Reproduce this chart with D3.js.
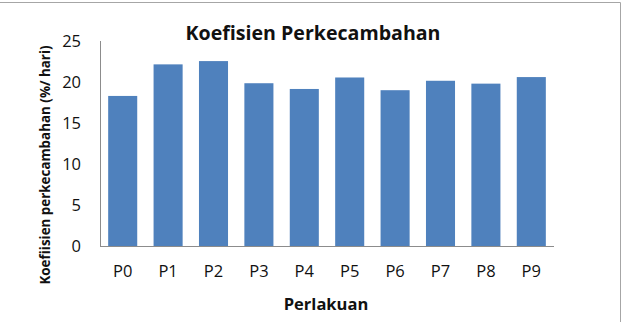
<!DOCTYPE html>
<html>
<head>
<meta charset="utf-8">
<script src="https://d3js.org/d3.v7.min.js"></script>
<style>
  body { margin: 0; background: #fff; }
  svg { display: block; font-family: "Open Sans", sans-serif; }
</style>
</head>
<body>
<svg></svg>
<script>
    // data
    var categories = ["P0", "P1", "P2", "P3", "P4", "P5", "P6", "P7", "P8", "P9"];
    var values = [18.3, 22.15, 22.55, 19.85, 19.15, 20.55, 19.0, 20.15, 19.8, 20.6];
    var yTicks = [0, 5, 10, 15, 20, 25];

    var width = 625, height = 322;
    var plotLeft = 100, plotRight = 554, plotTop = 41, plotBottom = 246;

    var svg = d3.select("svg")
        .attr("width", width)
        .attr("height", height);

    // frame: only the top and right edges show in the reference
    svg.append("line")
        .attr("x1", 0).attr("x2", 620.5).attr("y1", 2.5).attr("y2", 2.5)
        .style("stroke", "#a6a6a6");
    svg.append("line")
        .attr("x1", 620.5).attr("x2", 620.5).attr("y1", 2.5).attr("y2", height)
        .style("stroke", "#a6a6a6");

    var x = d3.scaleBand()
        .domain(categories)
        .range([plotLeft, plotRight])
        .paddingInner(0.36)
        .paddingOuter(0.18);

    var y = d3.scaleLinear()
        .domain([0, 25])
        .range([plotBottom, plotTop]);

    svg.selectAll("rect.bar")
        .data(values)
        .enter().append("rect")
        .attr("class", "bar")
        .attr("x", function (d, i) { return x(categories[i]); })
        .attr("width", x.bandwidth())
        .attr("y", function (d) { return y(d); })
        .attr("height", function (d) { return y(0) - y(d); })
        .style("fill", "#4f81bd");

    // y axis
    var yAxis = svg.append("g")
        .attr("transform", "translate(" + plotLeft + ",0)")
        .call(d3.axisLeft(y).tickValues(yTicks).tickSize(0).tickPadding(19));
    yAxis.select(".domain").style("stroke", "#8c8c8c").attr("d", "M0.5," + plotTop + "V" + plotBottom);
    yAxis.selectAll("text")
        .style("font-family", "Open Sans")
        .style("font-size", "16.5px")
        .style("fill", "#111");

    // x axis
    var xAxis = svg.append("g")
        .attr("transform", "translate(0," + plotBottom + ")")
        .call(d3.axisBottom(x).tickSize(0).tickPadding(19));
    xAxis.select(".domain").style("stroke", "#8c8c8c").attr("d", "M" + plotLeft + ",0.5H" + plotRight);
    xAxis.selectAll("text")
        .style("font-family", "Open Sans")
        .style("font-size", "16.5px")
        .style("fill", "#111");

    svg.append("text")
        .attr("x", 313)
        .attr("y", 40)
        .attr("text-anchor", "middle")
        .style("font-size", "19.6px")
        .style("font-weight", "bold")
        .style("fill", "#111")
        .text("Koefisien Perkecambahan");

    svg.append("text")
        .attr("x", 326)
        .attr("y", 310)
        .attr("text-anchor", "middle")
        .style("font-size", "16.5px")
        .style("font-weight", "bold")
        .style("fill", "#111")
        .text("Perlakuan");

    svg.append("text")
        .attr("transform", "translate(50,165)rotate(-90)")
        .attr("text-anchor", "middle")
        .style("font-size", "13.4px")
        .style("font-weight", "bold")
        .style("fill", "#111")
        .text("Koefiisien perkecambahan (%/ hari)");
</script>
</body>
</html>
